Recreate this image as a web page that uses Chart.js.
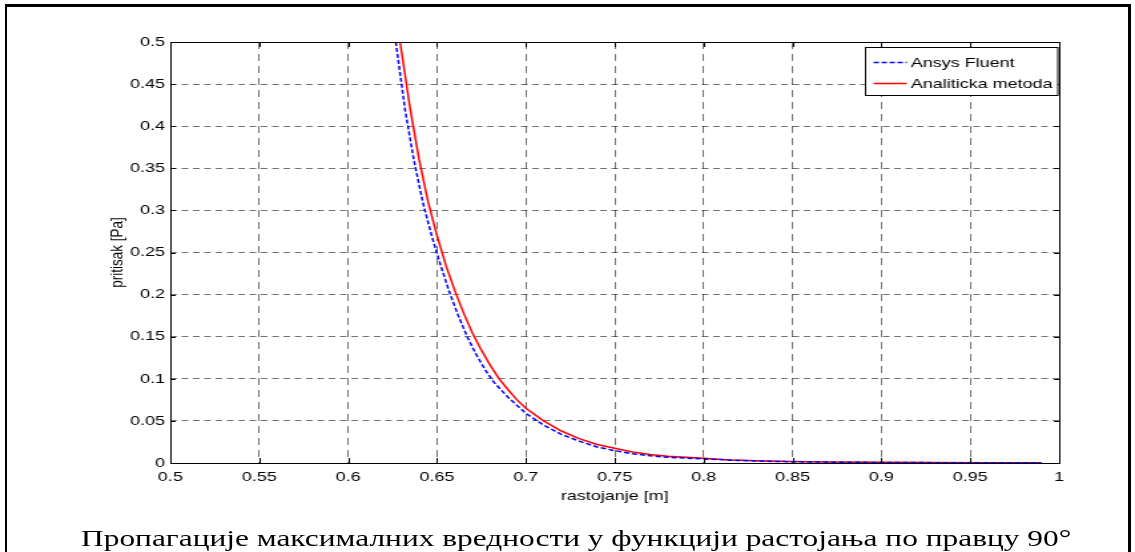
<!DOCTYPE html>
<html>
<head>
<meta charset="utf-8">
<script src="https://cdn.jsdelivr.net/npm/chart.js@4.4.1/dist/chart.umd.min.js"></script>
<style>
  html, body { margin: 0; padding: 0; background: #fff; }
  body { width: 1135px; height: 552px; overflow: hidden; position: relative; }
  #frame { position: absolute; left: 5px; top: 4px; width: 1126px; height: 556px; box-sizing: border-box;
           border: 3px solid #000; border-left-width: 2.5px; }
  /* the original figure is stretched sideways, so the whole stage is too */
  #stage { position: absolute; left: 0; top: 0; width: 853px; height: 552px;
           transform: scaleX(1.3306); transform-origin: 0 0; }
  #caption { position: absolute; left: 0; width: 866px; top: 524px; line-height: 28px; text-align: center;
             font-size: 23.6px; font-family: "Liberation Serif", "Times New Roman", serif; color: #000; white-space: nowrap; }
</style>
</head>
<body>
<div id="frame"></div>
<div id="stage">
  <canvas id="chart" width="853" height="552"></canvas>
  <div id="caption">Пропагације максималних вредности у функцији растојања по правцу 90°</div>
</div>
<script>
const xTickValues = [0.5, 0.55, 0.6, 0.65, 0.7, 0.75, 0.8, 0.85, 0.9, 0.95, 1];
const xTickLabels = ['0.5', '0.55', '0.6', '0.65', '0.7', '0.75', '0.8', '0.85', '0.9', '0.95', '1'];
const yTickValues = [0, 0.05, 0.1, 0.15, 0.2, 0.25, 0.3, 0.35, 0.4, 0.45, 0.5];
const yTickLabels = ['0', '0.05', '0.1', '0.15', '0.2', '0.25', '0.3', '0.35', '0.4', '0.45', '0.5'];

const seriesNames = ['Ansys Fluent', 'Analiticka metoda'];

// Ansys Fluent (blue dashed)
const fluentX = [0.6268, 0.632, 0.637, 0.642, 0.647, 0.652, 0.657, 0.662, 0.667, 0.672, 0.677, 0.682,
                 0.690, 0.700, 0.710, 0.720, 0.730, 0.740, 0.750, 0.760, 0.770, 0.780, 0.800, 0.820,
                 0.840, 0.860, 0.900, 0.950, 0.990];
const fluentY = [0.50, 0.42, 0.36, 0.31, 0.27, 0.235, 0.203, 0.175, 0.150, 0.129, 0.111, 0.096,
                 0.078, 0.059, 0.045, 0.034, 0.026, 0.019, 0.0147, 0.011, 0.0085, 0.0068, 0.0048, 0.0030,
                 0.0018, 0.0012, 0.0006, 0.0003, 0.0002];

// Analiticka metoda (red solid)
const analitX = [0.6292, 0.635, 0.640, 0.645, 0.650, 0.655, 0.660, 0.665, 0.670, 0.675, 0.680, 0.685,
                 0.690, 0.695, 0.700, 0.710, 0.720, 0.730, 0.740, 0.750, 0.760, 0.770, 0.780, 0.790,
                 0.800, 0.815, 0.830, 0.850, 0.870, 0.900, 0.930, 0.960, 0.990];
const analitY = [0.50, 0.42, 0.36, 0.31, 0.27, 0.235, 0.205, 0.178, 0.154, 0.134, 0.116, 0.100,
                 0.087, 0.075, 0.065, 0.050, 0.038, 0.029, 0.022, 0.0175, 0.013, 0.010, 0.008, 0.0068,
                 0.0056, 0.0037, 0.0026, 0.0018, 0.0012, 0.0008, 0.0005, 0.0003, 0.0002];

const axisFont = { family: '"Liberation Sans", Arial, Helvetica, sans-serif', size: 13.5 };

function toPoints(xs, ys) {
    return xs.map((x, i) => ({ x: x, y: ys[i] }));
}

// matlab style box with inward ticks on all four sides
const axesBox = {
    id: 'axesBox',
    afterDatasetsDraw(chart) {
        const { ctx, chartArea: a, scales: { x, y } } = chart;
        ctx.save();
        ctx.strokeStyle = '#000';
        ctx.lineWidth = 1;
        ctx.beginPath();
        xTickValues.forEach(v => {
            const px = Math.round(x.getPixelForValue(v)) + 0.5;
            ctx.moveTo(px, a.bottom); ctx.lineTo(px, a.bottom - 5);
            ctx.moveTo(px, a.top); ctx.lineTo(px, a.top + 5);
        });
        yTickValues.forEach(v => {
            const py = Math.round(y.getPixelForValue(v)) + 0.5;
            ctx.moveTo(a.left, py); ctx.lineTo(a.left + 4, py);
            ctx.moveTo(a.right, py); ctx.lineTo(a.right - 4, py);
        });
        ctx.stroke();
        ctx.strokeRect(Math.round(a.left) + 0.5, Math.round(a.top) + 0.5,
            Math.round(a.right - a.left), Math.round(a.bottom - a.top));
        ctx.restore();
    }
};

// boxed legend in the upper right corner
const boxLegend = {
    id: 'boxLegend',
    afterDraw(chart) {
        const { ctx, chartArea: a } = chart;
        const sets = chart.data.datasets;
        ctx.save();
        ctx.font = axisFont.size + 'px ' + axisFont.family;
        const textW = Math.max(...sets.map(d => ctx.measureText(d.label).width));
        const w = 34 + textW + 4;
        const h = 48;
        const left = Math.round(a.right - 1.5 - w) + 0.5;
        const top = Math.round(a.top + 5) + 0.5;
        ctx.fillStyle = '#fff';
        ctx.fillRect(left, top, w, h);
        ctx.strokeStyle = '#000';
        ctx.lineWidth = 1;
        ctx.strokeRect(left, top, w, h);
        sets.forEach((d, i) => {
            const rowY = top + 15 + i * 21;
            ctx.beginPath();
            ctx.setLineDash(d.borderDash || []);
            ctx.strokeStyle = d.borderColor;
            ctx.lineWidth = d.borderWidth;
            ctx.moveTo(left + 6, rowY);
            ctx.lineTo(left + 31, rowY);
            ctx.stroke();
            ctx.setLineDash([]);
            ctx.fillStyle = '#000';
            ctx.textBaseline = 'middle';
            ctx.textAlign = 'left';
            ctx.fillText(d.label, left + 34, rowY + 0.5);
        });
        ctx.restore();
    }
};

new Chart(document.getElementById('chart'), {
    type: 'line',
    data: {
        datasets: [
            {
                label: seriesNames[0],
                data: toPoints(fluentX, fluentY),
                borderColor: '#0000ff',
                borderWidth: 1.5,
                borderDash: [4, 2],
                pointRadius: 0,
                fill: false,
                tension: 0
            },
            {
                label: seriesNames[1],
                data: toPoints(analitX, analitY),
                borderColor: '#ff0000',
                borderWidth: 1.5,
                pointRadius: 0,
                fill: false,
                tension: 0
            }
        ]
    },
    options: {
        responsive: false,
        animation: false,
        events: [],
        layout: { padding: { top: 42, right: 57, bottom: 46, left: 0 } },
        plugins: {
            legend: { display: false },
            tooltip: { enabled: false }
        },
        scales: {
            x: {
                type: 'linear',
                min: 0.5,
                max: 1,
                afterBuildTicks: s => { s.ticks = xTickValues.map(v => ({ value: v })); },
                afterFit: s => { s.height = 43; },
                ticks: {
                    callback: (v, i) => xTickLabels[i],
                    autoSkip: false,
                    maxRotation: 0,
                    padding: 6,
                    color: '#000',
                    font: axisFont
                },
                grid: { color: 'rgba(0,0,0,0.55)', lineWidth: 1, drawTicks: false },
                border: { display: false, dash: [7, 5] },
                title: {
                    display: true,
                    text: 'rastojanje [m]',
                    color: '#000',
                    font: axisFont,
                    padding: { top: 0, bottom: 2 }
                }
            },
            y: {
                type: 'linear',
                min: 0,
                max: 0.5,
                afterBuildTicks: s => { s.ticks = yTickValues.map(v => ({ value: v })); },
                afterFit: s => { s.width = 128; },
                ticks: {
                    callback: (v, i) => yTickLabels[i],
                    autoSkip: false,
                    padding: 4,
                    color: '#000',
                    font: axisFont
                },
                grid: { color: 'rgba(0,0,0,0.55)', lineWidth: 1, drawTicks: false },
                border: { display: false, dash: [5, 3.5] },
                title: {
                    display: true,
                    text: 'pritisak [Pa]',
                    color: '#000',
                    font: axisFont,
                    padding: { top: 80, bottom: 0 }
                }
            }
        }
    },
    plugins: [axesBox, boxLegend]
});
</script>
</body>
</html>
